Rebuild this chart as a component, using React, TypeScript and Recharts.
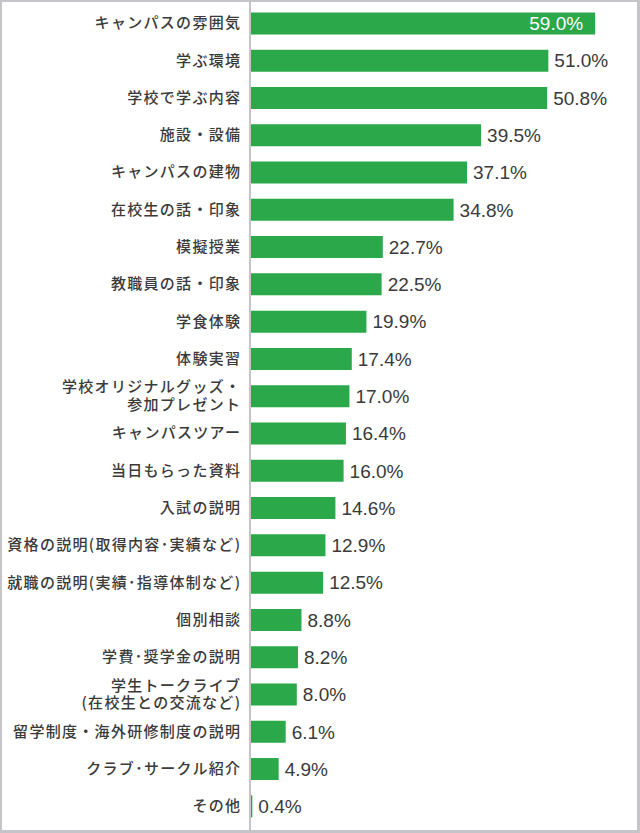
import React from 'react';
import { BarChart, Bar, XAxis, YAxis, LabelList } from 'recharts';

const categories = [
  'キャンパスの雰囲気',
  '学ぶ環境',
  '学校で学ぶ内容',
  '施設・設備',
  'キャンパスの建物',
  '在校生の話・印象',
  '模擬授業',
  '教職員の話・印象',
  '学食体験',
  '体験実習',
  '学校オリジナルグッズ・\n参加プレゼント',
  'キャンパスツアー',
  '当日もらった資料',
  '入試の説明',
  '資格の説明(取得内容･実績など)',
  '就職の説明(実績･指導体制など)',
  '個別相談',
  '学費･奨学金の説明',
  '学生トークライブ\n(在校生との交流など)',
  '留学制度・海外研修制度の説明',
  'クラブ･サークル紹介',
  'その他',
];

const values = [59.0, 51.0, 50.8, 39.5, 37.1, 34.8, 22.7, 22.5, 19.9, 17.4, 17.0, 16.4, 16.0, 14.6, 12.9, 12.5, 8.8, 8.2, 8.0, 6.1, 4.9, 0.4];

const data = categories.map((name, i) => ({ name, value: values[i] }));

const GREEN = '#2ba84a';
const GRAY = '#c5c5c9';
const TEXT = '#3a3a3a';

// category label, may wrap on \n
const CategoryTick = ({ x, y, payload }: any) => {
  const lines = String(payload.value).split('\n');
  const lh = 17.5;
  const startDy = -((lines.length - 1) * lh) / 2;
  return (
    <g>
      {lines.map((l, i) => (
        <text
          key={i}
          x={x + 1.3}
          y={y + startDy + i * lh}
          dy={5.3}
          textAnchor="end"
          fill={TEXT}
          fontSize={15}
          fontWeight={500}
          letterSpacing={1.3}
          fontFamily="'Noto Sans CJK JP', sans-serif"
        >
          {l}
        </text>
      ))}
    </g>
  );
};

// value label: first (largest) sits inside the bar in white
const ValueLabel = (props: any) => {
  const { x, y, width, height, value, index } = props;
  const inside = index === 0;
  const cy = y + height / 2;
  return (
    <text
      x={inside ? x + width - 12 : x + width + 6}
      y={cy}
      dy={6.8}
      textAnchor={inside ? 'end' : 'start'}
      fill={inside ? '#ffffff' : TEXT}
      fontSize={19}
      fontFamily="'Liberation Sans', Arial, sans-serif"
    >
      {Number(value).toFixed(1)}%
    </text>
  );
};

export default function App() {
  return (
    <div
      style={{
        position: 'absolute',
        left: 0,
        top: 0,
        width: 640,
        height: 833,
        boxSizing: 'border-box',
        borderTop: `2px solid ${GRAY}`,
        borderLeft: `2px solid ${GRAY}`,
        borderRight: `3px solid ${GRAY}`,
        borderBottom: `3px solid ${GRAY}`,
        background: '#fff',
      }}
    >
      <BarChart
        width={635}
        height={828}
        data={data}
        layout="vertical"
        margin={{ top: 0, right: 36, bottom: 0, left: 0 }}
        barSize={22}
      >
        <XAxis type="number" domain={[0, 60]} hide />
        <YAxis
          type="category"
          dataKey="name"
          width={248}
          interval={0}
          tickLine={false}
          tickSize={0}
          tickMargin={10}
          axisLine={{ stroke: GRAY, strokeWidth: 2 }}
          padding={{ top: 2.4, bottom: 5.4 }}
          tick={<CategoryTick />}
        />
        <Bar dataKey="value" fill={GREEN} isAnimationActive={false}>
          <LabelList dataKey="value" content={<ValueLabel />} />
        </Bar>
      </BarChart>
    </div>
  );
}
